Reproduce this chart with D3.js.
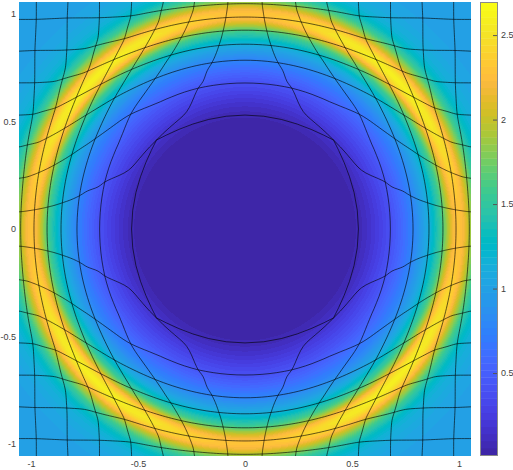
<!DOCTYPE html>
<html>
<head>
<meta charset="utf-8">
<script src="https://cdnjs.cloudflare.com/ajax/libs/d3/7.8.5/d3.min.js"></script>
<style>html,body{margin:0;padding:0;background:#fff}svg{display:block}text{font-family:"Liberation Sans",Arial,sans-serif}</style>
</head>
<body>
<svg id="chart" width="513" height="470"></svg>
<script>
// Radial intensity profile: along the axes and along the diagonals
const profileRadius = [0, 0.50, 0.55, 0.60, 0.69, 0.79, 0.86, 0.925, 0.96, 0.99, 1.02, 1.056, 1.10, 1.15, 1.25, 1.45, 1.6];
const profileAxis   = [0.02, 0.03, 0.10, 0.20, 0.42, 0.78, 1.12, 1.62, 2.10, 2.33, 2.25, 1.85, 1.45, 1.20, 1.03, 1.00, 1.00];
const profileDiag   = [0.02, 0.03, 0.10, 0.21, 0.44, 0.76, 1.10, 1.70, 2.38, 2.68, 2.45, 1.95, 1.45, 1.17, 1.02, 1.00, 1.00];
// Mesh lines: undeformed position and where the radial warp carries each radius
const meshLines = [-1.125, -0.975, -0.825, -0.675, -0.525, -0.375, -0.225, -0.075, 0.075, 0.225, 0.375, 0.525, 0.675, 0.825, 0.975, 1.125];
const warpFrom = [0.075, 0.106, 0.140, 0.168, 0.200, 0.237, 0.270, 0.318, 0.375, 0.525, 0.675, 0.825, 0.975, 1.045, 1.107, 1.186, 1.277, 1.379, 1.7];
const warpTo   = [0.530, 0.585, 0.592, 0.605, 0.650, 0.695, 0.708, 0.758, 0.785, 0.860, 0.925, 0.986, 1.047, 1.090, 1.124, 1.195, 1.286, 1.379, 1.7];
const xTickValues = [-1, -0.5, 0, 0.5, 1];
const yTickValues = [-1, -0.5, 0, 0.5, 1];
const barTickValues = [0.5, 1, 1.5, 2, 2.5];
const colorDomain = [0.015, 2.69];
const parula = [[0.2422,0.1504,0.6603],[0.2504,0.1650,0.7076],[0.2578,0.1818,0.7511],[0.2647,0.1978,0.7952],[0.2706,0.2147,0.8364],[0.2751,0.2342,0.8710],[0.2783,0.2559,0.8991],[0.2803,0.2782,0.9221],[0.2813,0.3006,0.9414],[0.2810,0.3228,0.9579],[0.2795,0.3447,0.9717],[0.2760,0.3667,0.9829],[0.2699,0.3892,0.9906],[0.2602,0.4123,0.9952],[0.2440,0.4358,0.9988],[0.2206,0.4603,0.9973],[0.1963,0.4847,0.9892],[0.1834,0.5074,0.9798],[0.1786,0.5289,0.9682],[0.1764,0.5499,0.9520],[0.1687,0.5703,0.9359],[0.1540,0.5902,0.9218],[0.1460,0.6091,0.9079],[0.1380,0.6276,0.8973],[0.1248,0.6459,0.8883],[0.1113,0.6635,0.8763],[0.0952,0.6798,0.8598],[0.0689,0.6948,0.8394],[0.0297,0.7082,0.8163],[0.0036,0.7203,0.7917],[0.0067,0.7312,0.7660],[0.0433,0.7411,0.7394],[0.0964,0.7500,0.7120],[0.1408,0.7584,0.6842],[0.1717,0.7670,0.6554],[0.1938,0.7758,0.6251],[0.2161,0.7843,0.5923],[0.2470,0.7918,0.5567],[0.2906,0.7973,0.5188],[0.3406,0.8008,0.4789],[0.3909,0.8029,0.4354],[0.4456,0.8024,0.3909],[0.5044,0.7993,0.3480],[0.5616,0.7942,0.3045],[0.6174,0.7876,0.2612],[0.6720,0.7793,0.2227],[0.7242,0.7698,0.1910],[0.7738,0.7598,0.1646],[0.8203,0.7498,0.1535],[0.8634,0.7406,0.1596],[0.9035,0.7330,0.1774],[0.9393,0.7288,0.2100],[0.9728,0.7298,0.2394],[0.9956,0.7434,0.2371],[0.9970,0.7659,0.2199],[0.9952,0.7893,0.2028],[0.9892,0.8136,0.1885],[0.9786,0.8386,0.1766],[0.9676,0.8639,0.1643],[0.9610,0.8890,0.1537],[0.9597,0.9135,0.1423],[0.9628,0.9373,0.1265],[0.9691,0.9606,0.1064],[0.9769,0.9839,0.0805]];

const plot = {left: 19, right: 471, top: 2, bottom: 456};
const bar = {left: 481, right: 497, top: 3, bottom: 455};
const textColor = "#404040";
const fontFamily = '"Liberation Sans",Arial,sans-serif';

const svg = d3.select("#chart");
const x = d3.scaleLinear().domain([-1.056, 1.056]).range([plot.left, plot.right]);
const y = d3.scaleLinear().domain([-1.056, 1.056]).range([plot.bottom, plot.top]);

const axisCurve = d3.scaleLinear().domain(profileRadius).range(profileAxis).clamp(true);
const diagCurve = d3.scaleLinear().domain(profileRadius).range(profileDiag).clamp(true);
const warpCurve = d3.scaleLinear().domain(warpFrom).range(warpTo).clamp(true);
const colors = parula.map(c => d3.rgb(c[0] * 255, c[1] * 255, c[2] * 255));
const color = d3.scaleQuantize().domain(colorDomain).range(colors);

// rounds off the corners of a piecewise table
const smooth = (fn, v, d) => (fn(v - 2 * d) + 2 * fn(v - d) + 3 * fn(v) + 2 * fn(v + d) + fn(v + 2 * d)) / 9;

function field(px, py) {
  const r = Math.hypot(px, py);
  const a = Math.atan2(py, px);
  const w = 1 - Math.pow(Math.cos(2 * a) * Math.cos(2 * a), 1.5);
  const ax = smooth(axisCurve, r, 0.012);
  const dg = smooth(diagCurve, r, 0.012);
  return ax + (dg - ax) * w;
}

// heat map
const w = plot.right - plot.left, h = plot.bottom - plot.top;
const canvas = document.createElement("canvas");
canvas.width = w; canvas.height = h;
const ctx = canvas.getContext("2d");
const img = ctx.createImageData(w, h);
for (let j = 0; j < h; j++) {
  const py = y.invert(plot.top + j + 0.5);
  for (let i = 0; i < w; i++) {
    const c = color(field(x.invert(plot.left + i + 0.5), py));
    const k = 4 * (j * w + i);
    img.data[k] = c.r; img.data[k + 1] = c.g; img.data[k + 2] = c.b; img.data[k + 3] = 255;
  }
}
ctx.putImageData(img, 0, 0);
svg.append("image").attr("x", plot.left).attr("y", plot.top).attr("width", w).attr("height", h)
  .attr("href", canvas.toDataURL());

// warped mesh: the sharp corner of the central cell stays, the rest is rounded
svg.append("clipPath").attr("id", "plotClip").append("rect")
  .attr("x", plot.left).attr("y", plot.top).attr("width", w).attr("height", h);
const warp = (gx, gy) => {
  const r0 = Math.hypot(gx, gy);
  const d = Math.max(0, Math.min(0.012, (r0 - 0.106) / 2));
  const k = smooth(warpCurve, r0, d) / r0;
  return [x(gx * k), y(gy * k)];
};
const params = d3.range(-1.5, 1.5001, 0.0125);
const line = d3.line();
const mesh = svg.append("g").attr("clip-path", "url(#plotClip)")
  .attr("fill", "none").attr("stroke", "#000").attr("stroke-opacity", 0.72).attr("stroke-width", 0.85);
mesh.selectAll("path.v").data(meshLines).join("path").attr("class", "v")
  .attr("d", g => line(params.map(t => warp(g, t))));
mesh.selectAll("path.h").data(meshLines).join("path").attr("class", "h")
  .attr("d", g => line(params.map(t => warp(t, g))));

// axes: labels only
const label = d => String(d);
const xAxis = svg.append("g").attr("transform", `translate(0,${plot.bottom})`)
  .call(d3.axisBottom(x).tickValues(xTickValues).tickSize(0).tickPadding(5).tickFormat(label));
const yAxis = svg.append("g").attr("transform", `translate(${plot.left},0)`)
  .call(d3.axisLeft(y).tickValues(yTickValues).tickSize(0).tickPadding(3).tickFormat(label));
[xAxis, yAxis].forEach(a => {
  a.select(".domain").remove();
  a.selectAll("text").attr("fill", textColor).attr("font-size", 9).attr("font-family", fontFamily);
});

// colour bar
const barScale = d3.scaleLinear().domain(colorDomain).range([bar.bottom, bar.top]);
const steps = d3.range(colors.length);
const stepValue = d3.scaleLinear().domain([0, colors.length]).range(colorDomain);
svg.append("g").selectAll("rect").data(steps).join("rect")
  .attr("x", bar.left).attr("width", bar.right - bar.left)
  .attr("y", i => barScale(stepValue(i + 1)))
  .attr("height", i => barScale(stepValue(i)) - barScale(stepValue(i + 1)) + 0.4)
  .attr("fill", i => colors[i]);
svg.append("rect").attr("x", bar.left - 0.5).attr("y", bar.top - 0.5)
  .attr("width", bar.right - bar.left + 1).attr("height", bar.bottom - bar.top + 1)
  .attr("fill", "none").attr("stroke", "#8a8a8a");
const barAxis = svg.append("g").attr("transform", `translate(${bar.right},0)`)
  .call(d3.axisRight(barScale).tickValues(barTickValues).tickSize(-4).tickPadding(4).tickFormat(label));
barAxis.select(".domain").remove();
barAxis.selectAll("line").attr("stroke", "#555");
barAxis.selectAll("text").attr("fill", textColor).attr("font-size", 9).attr("font-family", fontFamily);
</script>
</body>
</html>
